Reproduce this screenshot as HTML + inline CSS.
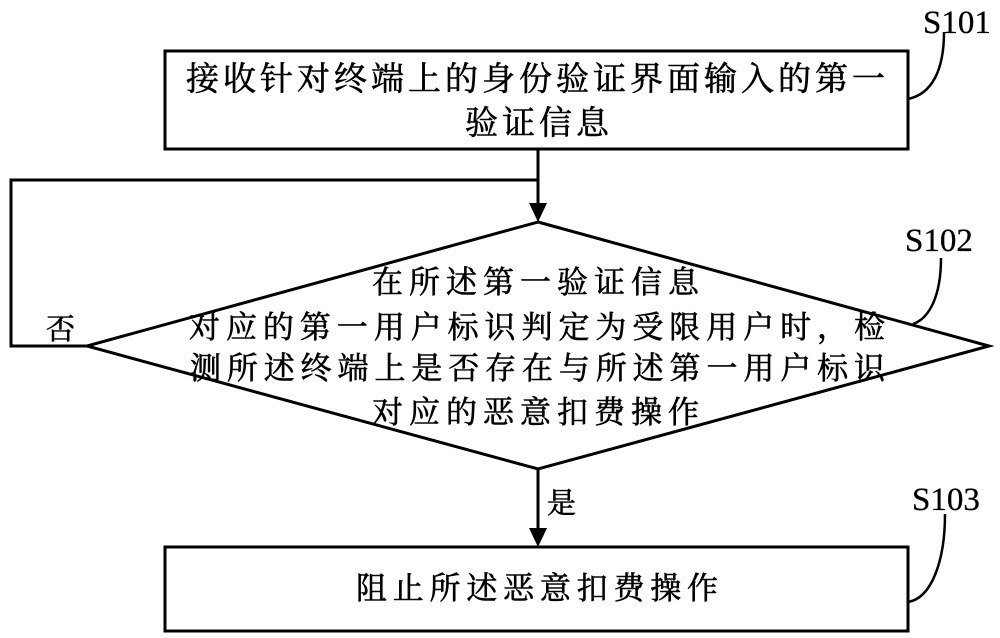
<!DOCTYPE html>
<html><head><meta charset="utf-8"><style>
body{margin:0;background:#fff;width:1000px;height:638px;overflow:hidden}
svg{display:block}
.c{font-family:"Liberation Serif","Noto Serif CJK SC",serif;fill:#000;stroke:#000;stroke-width:0.6}
</style></head><body>
<svg width="1000" height="638" viewBox="0 0 1000 638">
<g fill="none" stroke="#000" stroke-width="3">
<rect x="165" y="51" width="743" height="98"/>
<polygon points="538,222 989,346 538,469 87,346"/>
<rect x="165" y="547" width="743" height="84"/>
<polyline points="538,149 538,205"/>
<polyline points="538,180 11,180 11,346 87,346"/>
<polyline points="538,469 538,530"/>
<path d="M944,32 C944,70 932,94 908,99" stroke-width="2.5"/>
<path d="M941,258 C941,295 930,318 913,324" stroke-width="2.5"/>
<path d="M945,514 C945,560 932,598 908,602" stroke-width="2.5"/>
</g>
<polygon points="529,203 547,203 538,222" fill="#000"/>
<polygon points="529,528 547,528 538,547" fill="#000"/>
<g class="c" font-size="33">
<text x="186" y="90" textLength="699" lengthAdjust="spacing">接收针对终端上的身份验证界面输入的第一</text>
<text x="465" y="134" textLength="144" lengthAdjust="spacing">验证信息</text>
</g>
<g class="c" font-size="31">
<text x="372" y="293" textLength="327" lengthAdjust="spacing">在所述第一验证信息</text>
<text x="189" y="338" textLength="696" lengthAdjust="spacing">对应的第一用户标识判定为受限用户时，检</text>
<text x="190" y="379" textLength="695" lengthAdjust="spacing">测所述终端上是否存在与所述第一用户标识</text>
<text x="372" y="423" textLength="327" lengthAdjust="spacing">对应的恶意扣费操作</text>
<text x="356" y="599" textLength="362" lengthAdjust="spacing">阻止所述恶意扣费操作</text>
<text x="46" y="339" font-size="29">否</text>
<text x="547" y="513" font-size="29">是</text>
</g>
<g class="c" font-size="33" style="stroke-width:0.3">
<text x="923" y="33">S101</text>
<text x="905" y="251">S102</text>
<text x="912" y="510">S103</text>
</g>
</svg>
</body></html>
